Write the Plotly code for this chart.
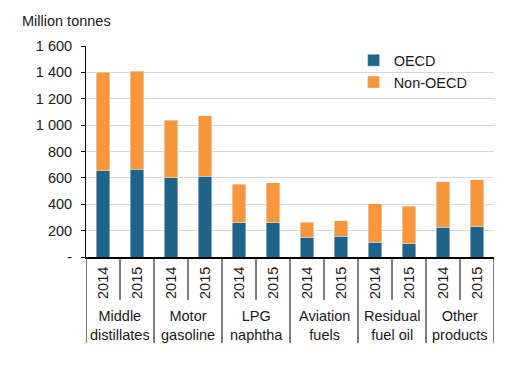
import plotly.graph_objects as go

categories = ["Middle<br>distillates", "Motor<br>gasoline", "LPG<br>naphtha",
              "Aviation<br>fuels", "Residual<br>fuel oil", "Other<br>products"]
years = ["2014", "2015"]
oecd = [654, 665, 601, 612, 258, 260, 149, 159, 111, 101, 225, 230]
non_oecd_total = [1400, 1410, 1036, 1072, 551, 564, 263, 275, 402, 384, 569, 586]
non_oecd = [t - o for t, o in zip(non_oecd_total, oecd)]
y_ticks = [0, 200, 400, 600, 800, 1000, 1200, 1400, 1600]
y_ticktext = ["-", "200", "400", "600", "800", "1 000", "1 200", "1 400", "1 600"]

FONT = "Liberation Sans, Arial, sans-serif"
FS = 14.5
TXT = "#1a1a1a"
xs = list(range(len(oecd)))

fig = go.Figure()
fig.add_trace(go.Bar(x=xs, y=oecd, name="OECD", marker_color="#1f6488", width=0.4))
fig.add_trace(go.Bar(x=xs, y=non_oecd, name="Non-OECD", marker_color="#f7963a", width=0.4))

shapes = []
annotations = []
n = len(oecd)
for i in range(n):
    annotations.append(dict(x=i, y=-0.123, xref="x", yref="paper", text=years[i % 2],
                            textangle=-90, showarrow=False, font=dict(size=FS, color=TXT, family=FONT),
                            xanchor="center", yanchor="middle"))
for g in range(len(categories)):
    shapes.append(dict(type="line", xref="x", yref="paper", x0=2 * g + 0.5, x1=2 * g + 0.5,
                       y0=0, y1=-0.204, line=dict(color="#000000", width=1)))
    annotations.append(dict(x=2 * g + 0.5, y=-0.327, xref="x", yref="paper", text=categories[g],
                            showarrow=False, font=dict(size=FS, color=TXT, family=FONT),
                            xanchor="center", yanchor="middle"))
for b in range(len(categories) + 1):
    shapes.append(dict(type="line", xref="x", yref="paper", x0=2 * b - 0.5, x1=2 * b - 0.5,
                       y0=0, y1=-0.408, line=dict(color="#000000", width=1)))

annotations.append(dict(x=-0.162, y=1.118, xref="paper", yref="paper", text="Million tonnes",
                        showarrow=False, xanchor="left", yanchor="middle",
                        font=dict(size=FS, color=TXT, family=FONT)))

fig.update_layout(
    barmode="stack",
    width=521, height=367,
    margin=dict(l=78, r=35, t=38, b=118),
    paper_bgcolor="white", plot_bgcolor="white",
    font=dict(family=FONT, size=FS, color=TXT),
    showlegend=True,
    legend=dict(x=0.656, y=1.008, xanchor="left", yanchor="top", bgcolor="rgba(0,0,0,0)",
                font=dict(size=FS, color=TXT, family=FONT), itemwidth=30,
                traceorder="normal", tracegroupgap=0),
    xaxis=dict(range=[-0.5, n - 0.5], showticklabels=False, showgrid=False, zeroline=False,
               showline=True, linecolor="#000000", linewidth=1.5, ticks=""),
    yaxis=dict(range=[0, 1600], tickvals=y_ticks, ticktext=y_ticktext, showgrid=True,
               gridcolor="#d9d9d9", gridwidth=1, zeroline=False, showline=True,
               linecolor="#000000", linewidth=1, ticks="outside", ticklen=4, tickcolor="#000000",
               ticklabelstandoff=6, tickfont=dict(size=FS, color=TXT, family=FONT)),
    shapes=shapes,
    annotations=annotations,
)

fig.write_html("out.html")
